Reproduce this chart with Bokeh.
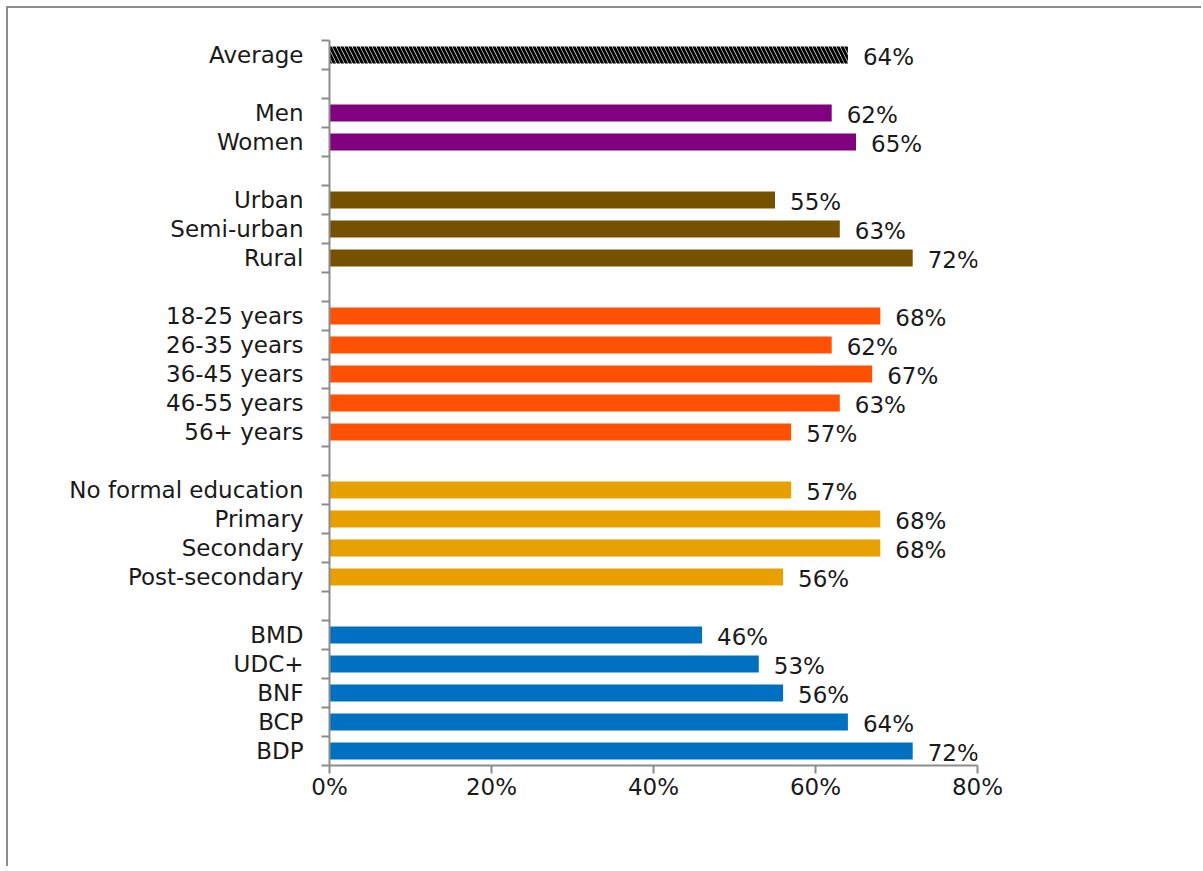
from bokeh.plotting import figure
from bokeh.models import Range1d, FixedTicker, ColumnDataSource, LabelSet, PrintfTickFormatter
from bokeh.core.properties import value
from bokeh.embed import file_html
from bokeh.resources import INLINE

# ---- data ----
groups = [
    (["Average"], [64], "#FFFFFF"),
    (["Men", "Women"], [62, 65], "#800080"),
    (["Urban", "Semi-urban", "Rural"], [55, 63, 72], "#765200"),
    (["18-25 years", "26-35 years", "36-45 years", "46-55 years", "56+ years"], [68, 62, 67, 63, 57], "#FF5004"),
    (["No formal education", "Primary", "Secondary", "Post-secondary"], [57, 68, 68, 56], "#E8A000"),
    (["BMD", "UDC+", "BNF", "BCP", "BDP"], [46, 53, 56, 64, 72], "#0070C0"),
]
x_ticks = [0, 20, 40, 60, 80]

FONT = "DejaVu Sans"
FS = "23px"

names, vals, cols, ys = [], [], [], []
slot = 0
for gi, (cats, v, c) in enumerate(groups):
    if gi > 0:
        slot += 1  # gap slot
    for n, val in zip(cats, v):
        names.append(n)
        vals.append(val)
        cols.append(c)
        ys.append(slot + 0.5)
        slot += 1
nslots = slot

W, H = 1195, 860
ML, MT = 321, 32
p = figure(width=W, height=H, output_backend="svg", toolbar_location=None,
           x_range=Range1d(0, 80), y_range=Range1d(nslots, 0),
           min_border_left=ML, min_border_right=W - ML - 648,
           min_border_top=MT, min_border_bottom=H - MT - 725)
p.styles = {"border-left": "2px solid #8c8c8c", "border-top": "2px solid #8c8c8c",
            "margin-left": "6px", "margin-top": "6px"}
p.outline_line_color = None
p.xgrid.visible = False
p.ygrid.visible = False

src = ColumnDataSource(dict(y=ys, v=vals, c=cols, lab=[f"{x}%" for x in vals]))
main = ColumnDataSource(dict(y=ys[1:], v=vals[1:], c=cols[1:]))
avg = ColumnDataSource(dict(y=ys[:1], v=vals[:1]))
p.hbar(y="y", right="v", left=0, height=0.58, fill_color="c", line_color=None, source=main)
p.hbar(y="y", right="v", left=0, height=0.58, fill_color="white", line_color=None,
       hatch_pattern="\\", hatch_color="black", hatch_scale=8, hatch_weight=3, source=avg)

labels = LabelSet(x="v", y="y", text="lab", source=src, x_offset=15, y_offset=-2,
                  text_baseline="middle", text_font=value(FONT), text_font_size=FS,
                  text_color="#1a1a1a")
p.add_layout(labels)

ya = p.yaxis[0]
ya.ticker = FixedTicker(ticks=ys, minor_ticks=list(range(nslots + 1)))
ya.major_label_overrides = {y: n for y, n in zip(ys, names)}
ya.major_tick_line_color = None
ya.major_tick_out = 0
ya.major_tick_in = 0
ya.minor_tick_out = 8
ya.minor_tick_in = 0
ya.minor_tick_line_color = "#8c8c8c"
ya.minor_tick_line_width = 2
ya.axis_line_color = "#8c8c8c"
ya.axis_line_width = 2
ya.major_label_standoff = 18
ya.major_label_text_font = FONT
ya.major_label_text_font_size = FS
ya.major_label_text_color = "#1a1a1a"

xa = p.xaxis[0]
xa.ticker = FixedTicker(ticks=x_ticks)
xa.formatter = PrintfTickFormatter(format="%d%%")
xa.minor_tick_line_color = None
xa.major_tick_out = 8
xa.major_tick_in = 0
xa.major_tick_line_color = "#8c8c8c"
xa.major_tick_line_width = 2
xa.axis_line_color = "#8c8c8c"
xa.axis_line_width = 2
xa.major_label_standoff = 0
xa.major_label_text_font = FONT
xa.major_label_text_font_size = FS
xa.major_label_text_color = "#1a1a1a"

open("out.html", "w").write(file_html(p, INLINE))
